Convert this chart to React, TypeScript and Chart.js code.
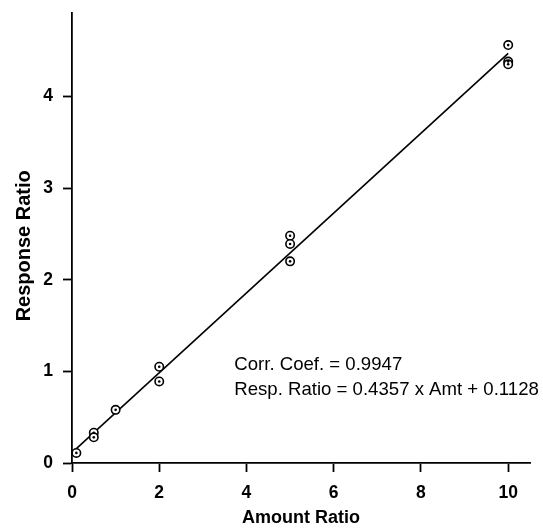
import React, { useEffect, useRef } from "react";
import { Chart, registerables } from "chart.js";

Chart.register(...registerables);

// ---- data ----
const amountRatio = [0.1, 0.5, 0.5, 1, 2, 2, 5, 5, 5, 10, 10, 10];
const responseRatio = [0.11, 0.33, 0.28, 0.58, 1.05, 0.89, 2.48, 2.39, 2.2, 4.56, 4.38, 4.35];
const xTicks = [0, 2, 4, 6, 8, 10];
const yTicks = [0, 1, 2, 3, 4];
const fitSlope = 0.4357;
const fitIntercept = 0.1128;
const fitRange = [0.1, 10];
const xTitle = "Amount Ratio";
const yTitle = "Response Ratio";
const annotationLines = [
  "Corr. Coef. = 0.9947",
  "Resp. Ratio = 0.4357 x Amt + 0.1128",
];

const FONT = "'Liberation Sans', Arial, sans-serif";

export default function App() {
  const ref = useRef<HTMLCanvasElement | null>(null);

  useEffect(() => {
    const canvas = ref.current;
    if (!canvas) return;

    const points = amountRatio.map((x, i) => ({ x, y: responseRatio[i] }));
    const fitLine = fitRange.map((x) => ({ x, y: fitSlope * x + fitIntercept }));

    const textPlugin = {
      id: "texts",
      afterDraw(chart: any) {
        const { ctx, chartArea, scales } = chart;
        ctx.save();
        ctx.fillStyle = "#000";
        // x title
        ctx.font = `bold 18px ${FONT}`;
        ctx.textAlign = "center";
        ctx.textBaseline = "middle";
        ctx.fillText(xTitle, (chartArea.left + chartArea.right) / 2, 518);
        // y title
        ctx.save();
        ctx.translate(24, scales.y.getPixelForValue(2.37));
        ctx.rotate(-Math.PI / 2);
        ctx.font = `bold 20px ${FONT}`;
        ctx.fillText(yTitle, 0, 0);
        ctx.restore();
        // annotation
        ctx.font = `18.6px ${FONT}`;
        ctx.textAlign = "left";
        ctx.textBaseline = "middle";
        const ax = scales.x.getPixelForValue(3.72);
        const ay = scales.y.getPixelForValue(1.07);
        annotationLines.forEach((t, i) => ctx.fillText(t, ax, ay + i * 24.7));
        ctx.restore();
      },
    };

    const chart = new Chart(canvas, {
      type: "scatter",
      data: {
        datasets: [
          {
            type: "line",
            data: fitLine,
            borderColor: "#000",
            borderWidth: 1.6,
            pointRadius: 0,
            fill: false,
            order: 3,
          } as any,
          {
            data: points,
            pointStyle: "circle",
            pointRadius: 4.2,
            pointBorderWidth: 1.6,
            pointBorderColor: "#000",
            pointBackgroundColor: "#fff",
            order: 2,
          },
          {
            data: points,
            pointStyle: "circle",
            pointRadius: 1.3,
            pointBorderWidth: 0,
            pointBorderColor: "#000",
            pointBackgroundColor: "#000",
            order: 1,
          },
        ],
      },
      options: {
        animation: false,
        responsive: false,
        devicePixelRatio: 1,
        layout: { padding: { top: 13, right: 13, left: 0, bottom: 0 } },
        plugins: { legend: { display: false }, tooltip: { enabled: false } },
        scales: {
          x: {
            type: "linear",
            min: 0,
            max: 10.5,
            afterBuildTicks: (s: any) => {
              s.ticks = xTicks.map((v) => ({ value: v }));
            },
            afterFit: (s: any) => {
              s.height = 69;
              s.paddingLeft = 0;
              s.paddingRight = 0;
            },
            grid: {
              drawOnChartArea: false,
              drawTicks: true,
              tickLength: 9,
              tickWidth: 1.8,
              tickColor: "#000",
            },
            border: { display: true, color: "#000", width: 1.8 },
            ticks: {
              color: "#000",
              padding: 11,
              font: { family: FONT, size: 17.5, weight: "bold" },
            },
          },
          y: {
            type: "linear",
            min: 0,
            max: 4.91,
            afterBuildTicks: (s: any) => {
              s.ticks = yTicks.map((v) => ({ value: v }));
            },
            afterFit: (s: any) => {
              s.width = 72;
              s.paddingTop = 0;
              s.paddingBottom = 0;
            },
            grid: {
              drawOnChartArea: false,
              drawTicks: true,
              tickLength: 9,
              tickWidth: 1.8,
              tickColor: "#000",
            },
            border: { display: true, color: "#000", width: 1.8 },
            ticks: {
              color: "#000",
              padding: 10,
              font: { family: FONT, size: 17.5, weight: "bold" },
            },
          },
        },
      },
      plugins: [textPlugin],
    });

    return () => chart.destroy();
  }, []);

  return (
    <div style={{ position: "fixed", left: 0, top: 0, width: 543, height: 532, background: "#fff" }}>
      <canvas ref={ref} width={543} height={532} style={{ display: "block" }} />
    </div>
  );
}
